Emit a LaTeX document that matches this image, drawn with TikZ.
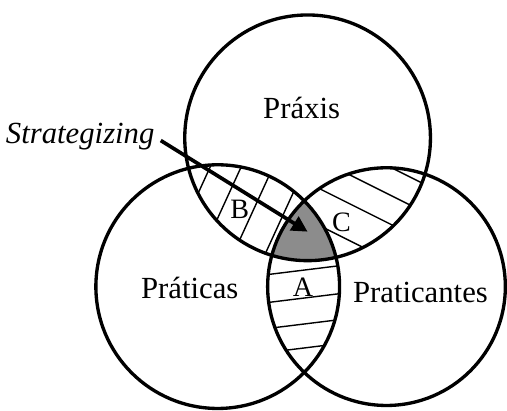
\documentclass[tikz,border=0pt]{standalone}
\usepackage{fontspec}
\setmainfont{Liberation Serif}
\usetikzlibrary{arrows.meta}
\begin{document}
\begin{tikzpicture}[
    ring/.style={draw, line width=1.9pt},
    hatch/.style={line width=0.8pt},
    lbl/.style={font=\fontsize{17.5}{19}\selectfont, inner sep=0pt},
    zone/.style={font=\fontsize{16}{18}\selectfont, inner sep=0pt} ]
    % --- circle centres ---
    \coordinate (cT) at (6.16, 5.40);
    \coordinate (cL) at (4.36, 2.42);
    \coordinate (cR) at (7.74, 2.42);

    % --- hatching B ---
    \begin{scope}
      \clip (cT) circle (2.46);
      \clip (cL) circle (2.44);
      \foreach \x in {4.0, 4.62, 5.26, 5.90}
        \draw[hatch] (\x+1.32, 4.36+2.88) -- (\x-1.32, 4.36-2.88);
    \end{scope}

    % --- hatching C ---
    \begin{scope}
      \clip (cT) circle (2.46);
      \clip (cR) circle (2.38);
      \foreach \b in {8.72, 8.16, 7.58, 6.84}
        \draw[hatch] (5, \b-2.5) -- (10, \b-5);
    \end{scope}

    % --- hatching A ---
    \begin{scope}
      \clip (cL) circle (2.44);
      \clip (cR) circle (2.38);
      \foreach \y in {2.74, 2.18, 1.66, 1.18}
        \draw[hatch] (5, \y-0.123) -- (7.5, \y+0.185);
    \end{scope}

    % --- common core ---
    \begin{scope}
      \clip (cT) circle (2.46);
      \clip (cL) circle (2.44);
      \fill[black!45] (cR) circle (2.38);
    \end{scope}

    % --- circles ---
    \draw[ring] (cT) circle (2.46);
    \draw[ring] (cL) circle (2.44);
    \draw[ring] (cR) circle (2.38);

    % --- labels ---
    \node[lbl] (praxis) at (6.04, 6.00) {Práxis};
    \node[lbl] (praticas) at (3.80, 2.40) {Práticas};
    \node[lbl] (praticantes) at (8.42, 2.30) {Praticantes};
    \node[zone] (zA) at (6.07, 2.40) {A};
    \node[zone] (zB) at (4.80, 3.96) {B};
    \node[zone] (zC) at (6.84, 3.70) {C};

    % --- arrow ---
    \node[lbl, anchor=east] (strat) at (3.10, 5.42) {\itshape Strategizing};
    \coordinate (core) at (6.16, 3.52);
    \draw[line width=2.1pt, shorten <=4pt, -{Triangle[length=9pt, width=9pt]}]
      (strat.east) -- (core);

    % Bounding box
    \useasboundingbox (0, 0) rectangle (10.14, 8.16);
\end{tikzpicture}
\end{document}
